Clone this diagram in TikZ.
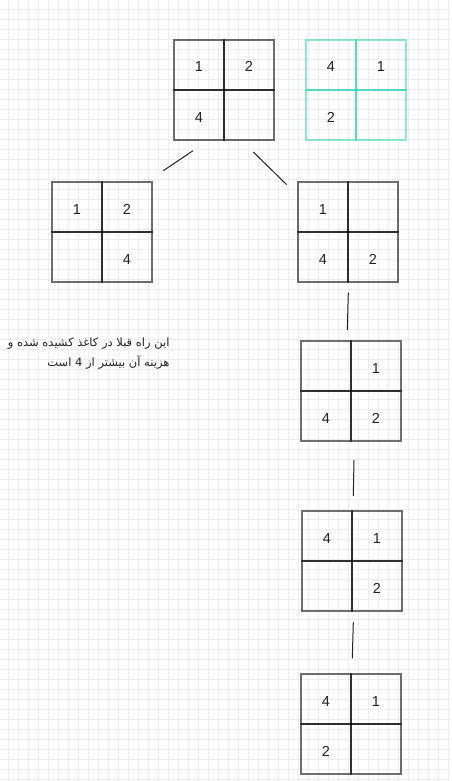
\documentclass[tikz,border=0pt]{standalone}
\usepackage{fontspec}
\usepackage{tikz}
\setmainfont{Liberation Sans}
\newfontfamily\farsi[Script=Arabic]{DejaVu Sans}
\TeXXeTstate=1
\definecolor{gr}{RGB}{237,237,237}
\definecolor{tq}{RGB}{31,209,173}
\definecolor{ink}{RGB}{34,34,34}
\def\half{25}
\def\cell{50}
\tikzset{
  cellg/.style={draw=black,draw opacity=0.57,line width=1.8pt,minimum size=\cell pt,inner sep=0pt,text=ink,text height=14pt,font=\fontsize{14.5}{17}\selectfont},
  cellt/.style={cellg,draw=tq,draw opacity=0.5},
  link/.style={draw=ink,line width=1pt}
}
\newcommand{\board}[8]{\node[#4] (#3a) at (#1+\half,#2+\half) {#5};
	\node[#4] (#3b) at (#1+\half+\cell,#2+\half) {#6};
	\node[#4] (#3c) at (#1+\half,#2+\half+\cell) {#7};
	\node[#4] (#3d) at (#1+\half+\cell,#2+\half+\cell) {#8}; }

\begin{document}
\begin{tikzpicture}[x=1pt,y=-1pt]
\useasboundingbox (0,0) rectangle (451,781);
\foreach \gx in {8.5,18.5,...,448.5} \draw[gr,line width=1pt] (\gx,0) -- (\gx,781);
\foreach \gy in {9.5,19.5,...,779.5} \draw[gr,line width=1pt] (0,\gy) -- (451,\gy);

\board{174}{40}{root}{cellg}{1}{2}{4}{}
\board{306}{40}{goal}{cellt}{4}{1}{2}{}
\board{52}{182}{left}{cellg}{1}{2}{}{4}
\board{298}{182}{right}{cellg}{1}{}{4}{2}
\board{301}{341}{stepa}{cellg}{}{1}{4}{2}
\board{302}{511}{stepb}{cellg}{4}{1}{}{2}
\board{301}{674}{stepc}{cellg}{4}{1}{2}{}

\node[anchor=north east,align=right,text=ink,font=\farsi\fontsize{11.5}{20}\selectfont] (note) at (173,334) {\beginR این راه قبلا در کاغذ کشیده شده و\endR\\ \beginR هزینه آن بیشتر از 4 است\endR};

\coordinate (l1a) at (163.3,170.7);
\coordinate (l1b) at (193,150.7);
\coordinate (r1a) at (253.3,152);
\coordinate (r1b) at (286.7,184.7);
\coordinate (r2a) at (348.3,292.7);
\coordinate (r2b) at (347.3,330);
\coordinate (r3a) at (354,460);
\coordinate (r3b) at (353.3,496);
\coordinate (r4a) at (353.3,622.3);
\coordinate (r4b) at (352.3,658.3);

\draw[link] (l1a) -- (l1b);
\draw[link] (r1a) -- (r1b);
\draw[link] (r2a) -- (r2b);
\draw[link] (r3a) -- (r3b);
\draw[link] (r4a) -- (r4b);
\end{tikzpicture}
\end{document}
